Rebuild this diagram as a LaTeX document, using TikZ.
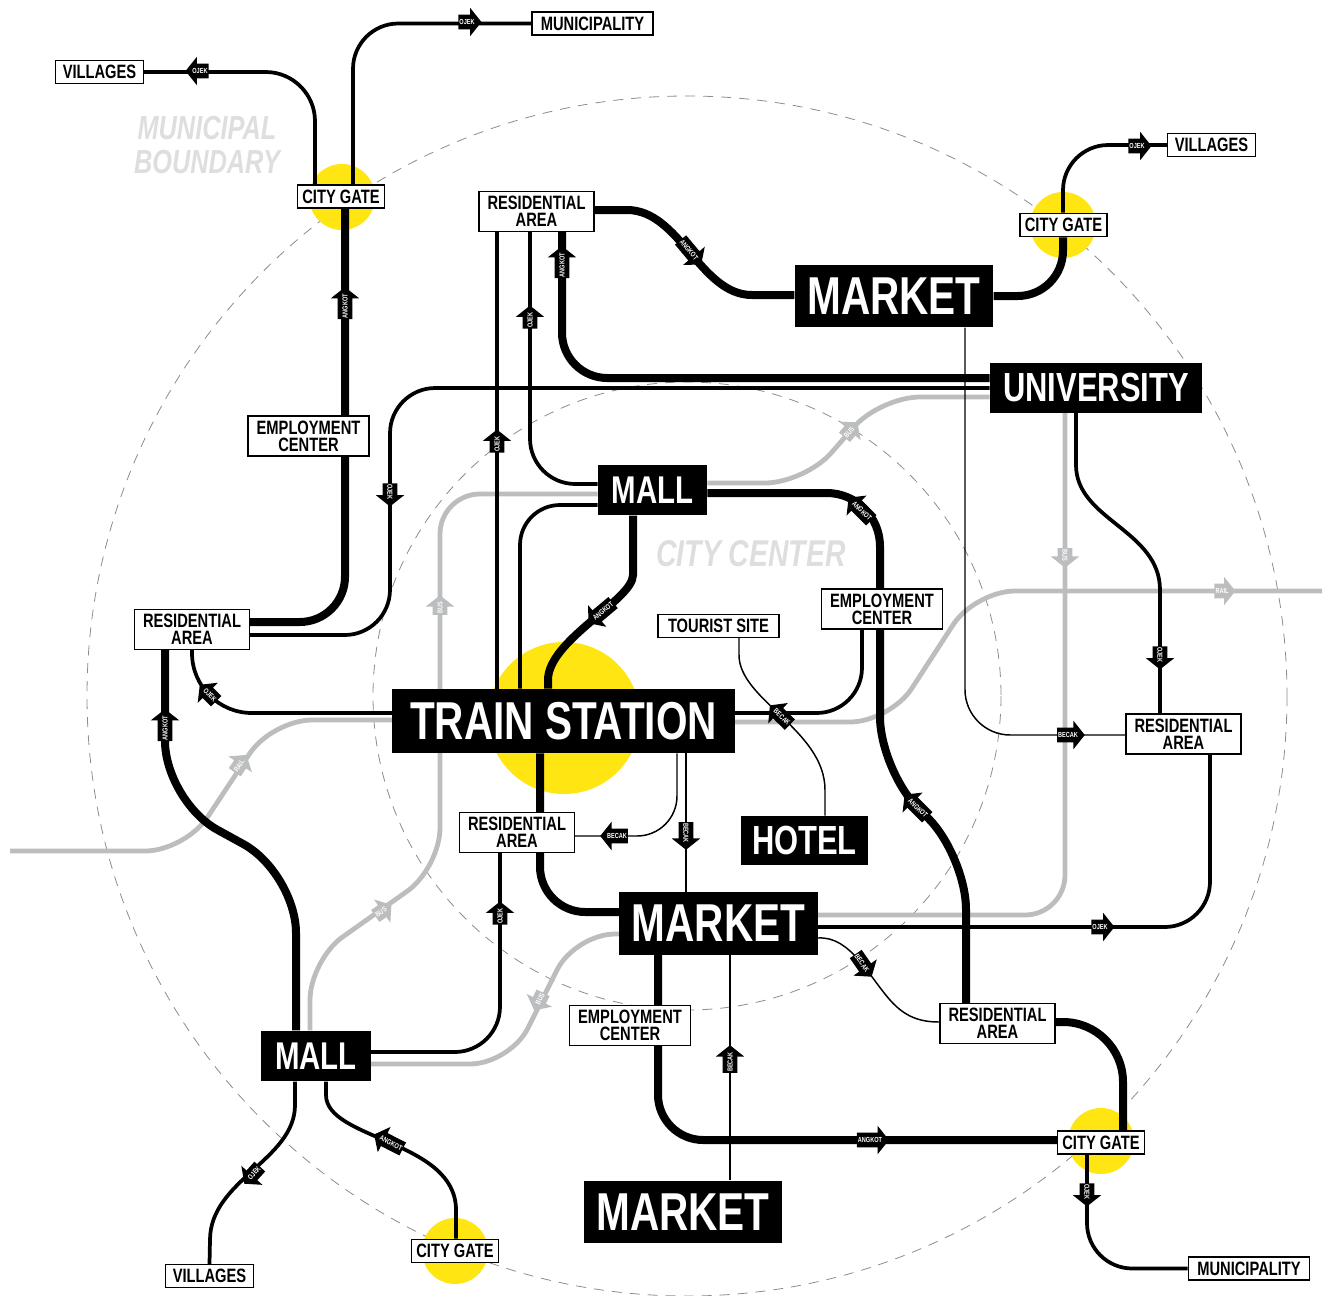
\documentclass[tikz,border=0pt]{standalone}
\usepackage{fontspec}
\setmainfont{Liberation Sans}[FakeStretch=0.76]
\usetikzlibrary{shapes.arrows}
\definecolor{gateyellow}{RGB}{255,229,18}
\definecolor{railgray}{RGB}{188,189,191}
\definecolor{labelgray}{RGB}{221,222,224}
\definecolor{ringgray}{RGB}{140,140,140}
\newcommand\tagfont{\fontsize{5.5}{5.5}\selectfont\bfseries}
\pgfdeclarelayer{bg}
\pgfsetlayers{bg,main}
\begin{document}
\begin{tikzpicture}[x=0.75pt,y=0.75pt,yscale=-1,xscale=1,
  big/.style={fill=black, text=white, inner sep=0pt},
  market/.style={big, minimum width=149pt, minimum height=47pt, font=\fontsize{40}{40}\selectfont\bfseries},
  mall/.style={big, minimum width=82pt, minimum height=38pt, font=\fontsize{29}{29}\selectfont\bfseries},
  small/.style={draw, line width=1.1pt, fill=white, inner sep=0pt, align=center, font=\fontsize{14.5}{12.75}\selectfont\bfseries},
  gate/.style={small, minimum width=65pt, minimum height=17.5pt},
  vill/.style={small, minimum width=66pt, minimum height=17pt},
  muni/.style={small, minimum width=91pt, minimum height=17pt},
  res/.style={small, minimum width=86pt, minimum height=30pt},
  emp/.style={small, minimum width=91pt, minimum height=30pt},
  angkot/.style={line width=6pt},
  ojek/.style={line width=2.8pt},
  becak/.style={line width=1.1pt},
  bus/.style={line width=3.6pt, railgray},
  ring/.style={ringgray, line width=0.6pt, dash pattern=on 7.5pt off 6pt},
  tag/.style={single arrow, fill=black, text=white, font=\tagfont, inner xsep=0.6pt, inner ysep=3.3pt, text height=3.9pt, text depth=0pt, single arrow head extend=5.2pt, single arrow tip angle=103},
  tagl/.style={tag, shape border rotate=180},
  gtag/.style={tag, fill=railgray},
  gtagl/.style={tagl, fill=railgray}]
\useasboundingbox (0,0) rectangle (1325,1296);

% Text Node
\node[font=\fontsize{25}{26}\selectfont\bfseries\itshape, text=labelgray, align=center] (muniLbl) at (207,145) {MUNICIPAL\\BOUNDARY};
% Text Node
\node[font=\fontsize{28}{28}\selectfont\bfseries\itshape, text=labelgray] (cityLbl) at (751,554) {CITY CENTER};

% big places
\node[market] (mktN) at (894,296) {MARKET};
\node[big, minimum width=159pt, minimum height=37.5pt, font=\fontsize{30.5}{30.5}\selectfont\bfseries] (uni) at (1096,387.5) {UNIVERSITY};
\node[mall] (mallN) at (652.5,490) {MALL};
\node[big, minimum width=257pt, minimum height=48pt, font=\fontsize{40}{40}\selectfont\bfseries] (train) at (563.5,721) {TRAIN STATION};
\node[big, minimum width=95pt, minimum height=37pt, font=\fontsize{30.5}{30.5}\selectfont\bfseries] (hotel) at (804.5,840.5) {HOTEL};
\node[market] (mktC) at (718.5,923.5) {MARKET};
\node[mall] (mallS) at (316,1056) {MALL};
\node[market] (mktS) at (683,1212) {MARKET};

% small places
\node[muni] (muniN) at (592.5,23.5) {MUNICIPALITY};
\node[vill] (villNW) at (99.5,72) {VILLAGES};
\node[gate] (gateNW) at (341,196.5) {CITY GATE};
\node[res] (resN) at (536.5,211.5) {RESIDENTIAL\\AREA};
\node[gate] (gateNE) at (1063.5,225) {CITY GATE};
\node[vill] (villNE) at (1211.5,145) {VILLAGES};
\node[emp] (empW) at (308.5,436) {EMPLOYMENT\\CENTER};
\node[res] (resW) at (192,629.5) {RESIDENTIAL\\AREA};
\node[muni] (tour) at (718.5,626) {TOURIST SITE};
\node[emp] (empE) at (882,609) {EMPLOYMENT\\CENTER};
\node[res] (resE) at (1183.5,734) {RESIDENTIAL\\AREA};
\node[res] (resC) at (517,832.5) {RESIDENTIAL\\AREA};
\node[emp] (empS) at (630,1025.5) {EMPLOYMENT\\CENTER};
\node[res] (resSE) at (997.5,1023.5) {RESIDENTIAL\\AREA};
\node[gate] (gateSE) at (1101,1142.5) {CITY GATE};
\node[muni] (muniSE) at (1249,1268.5) {MUNICIPALITY};
\node[gate] (gateS) at (455,1251) {CITY GATE};
\node[vill] (villS) at (209.5,1276) {VILLAGES};

\begin{pgfonlayer}{bg}
%Shape: Circle
\draw[ring] (687,696) circle (450pt);
\draw[ring] (687,696) circle (235.5pt);
%Shape: Circle
\fill[gateyellow] (342,197) circle (24.75pt);
\fill[gateyellow] (1063,225) circle (24.75pt);
\fill[gateyellow] (564,718) circle (57pt);
\fill[gateyellow] (1101,1141) circle (24.75pt);
\fill[gateyellow] (455,1251) circle (24.75pt);

% rail and bus
\draw[bus, rounded corners=30pt] (10,851) -- (185,851) -- (272,720) -- (train.west |- 0,720);
\draw[bus, rounded corners=30pt] (train.east |- 0,722) -- (890,722) -- (975,591) -- (1322,591);
\draw[bus, rounded corners=30pt] (mallN.east |- 0,483) -- (805,483) -- (880,397) -- (uni.west |- 0,397);
\draw[bus, rounded corners=30pt] (uni.south -| 1065,0) -- (1065,915) -- (mktC.east |- 0,915);
\draw[bus, rounded corners=30pt] (mktC.west |- 0,934) -- (575,934) -- (510,1064) -- (mallS.east |- 0,1064);
\draw[bus, rounded corners=30pt] (mallS.north -| 310,0) -- (310,960) -- (440,868) -- (440,494) -- (mallN.west |- 0,494);

%Straight Lines
\draw[angkot, rounded corners=34pt] (gateNW.south -| 345,0) |- (resW.east |- 0,622);
\draw[ojek, rounded corners=34pt] (uni.west |- 0,388) -- (390,388) -- (390,635) -- (resW.east |- 0,635);
\draw[ojek, rounded corners=45pt] (train.west |- 0,713) -| (resW.south);
\draw[angkot, rounded corners=45pt] (resW.south -| 165,0) -- (165,801) -- (296,873) -- (mallS.north -| 296,0);
\draw[ojek] (mallS.south -| 295,0) -- (295,1105) .. controls (295,1160) and (210,1180) .. (210,1240) -- (villS.north);
\draw[ojek] (mallS.south -| 326,0) -- (326,1095) .. controls (326,1140) and (456,1140) .. (456,1210) -- (gateS.north -| 456,0);
\draw[ojek, rounded corners=34pt] (mallS.east |- 0,1052) -| (resC.south -| 500,0);
\draw[ojek, rounded corners=34pt] (mallN.west |- 0,484) -| (resN.south -| 530,0);
\draw[ojek] (resN.south -| 497,0) -- (train.north -| 497,0);
\draw[angkot, rounded corners=34pt] (resN.south -| 562,0) |- (uni.west |- 0,378);
\draw[angkot] (resN.east |- 0,210) -- (627,210) .. controls (680,210) and (700,295) .. (752,295) -- (mktN.west |- 0,295);
\draw[angkot, rounded corners=34pt] (mktN.east |- 0,296) -| (gateNE.south -| 1063,0);
\draw[ojek, rounded corners=34pt] (gateNE.north -| 1063,0) |- (villNE.west);
\draw[becak, rounded corners=34pt] (mktN.south -| 965,0) |- (resE.west |- 0,735);
\draw[ojek] (uni.south -| 1076,0) -- (1076,465) .. controls (1076,520) and (1160,530) .. (1160,590) -- (resE.north -| 1160,0);
\draw[ojek, rounded corners=34pt] (mktC.east |- 0,927) -| (resE.south -| 1210,0);
\draw[becak] (mktC.east |- 0,938) .. controls (850,936) and (868,975) .. (890,1000) .. controls (905,1017) and (920,1022) .. (resSE.west |- 0,1022);
\draw[angkot, rounded corners=40pt] (mallN.east |- 0,493) -- (880,493) -- (880,770) -- (966,856) -- (resSE.north -| 966,0);
\draw[angkot, rounded corners=45pt] (resSE.east |- 0,1022) -| (gateSE.north -| 1123,0);
\draw[ojek, rounded corners=34pt] (gateSE.south -| 1087,0) |- (muniSE.west);
\draw[angkot, rounded corners=34pt] (mktC.south -| 658,0) |- (gateSE.west |- 0,1140);
\draw[becak] (mktS.north -| 730,0) -- (mktC.south -| 730,0);
\draw[becak] (train.south -| 686,0) -- (mktC.north -| 686,0);
\draw[becak, rounded corners=30pt] (train.south -| 677,0) |- (resC.east |- 0,836);
\draw[angkot, rounded corners=34pt] (train.south -| 540,0) |- (mktC.west |- 0,912);
\draw[angkot] (mallN.south -| 633,0) -- (633,575) .. controls (633,600) and (548,640) .. (548,680) -- (train.north -| 548,0);
\draw[ojek, rounded corners=30pt] (mallN.west |- 0,505) -| (train.north -| 520,0);
\draw[ojek, rounded corners=34pt] (train.east |- 0,713) -| (empE.south -| 862,0);
\draw[becak] (tour.south -| 739,0) -- (739,655) .. controls (739,700) and (825,730) .. (825,790) -- (hotel.north -| 825,0);
\draw[ojek, rounded corners=34pt] (gateNW.north -| 353,0) |- (muniN.west);
\draw[ojek, rounded corners=37pt] (gateNW.north -| 315,0) |- (villNW.east);
\end{pgfonlayer}

% mode tags
\node[tag] (tMuniN) at (467,22) {OJEK};
\node[tagl] (tVillNW) at (200,71) {OJEK};
\node[tag, rotate=90] (tGateNW) at (345,306) {ANGKOT};
\node[tag, rotate=-90] (tUniW) at (390,492) {OJEK};
\node[tagl, rotate=-45] (tResW) at (210,695) {OJEK};
\node[tag, rotate=90] (tResWs) at (165,728) {ANGKOT};
\node[tagl, rotate=48] (tVillS) at (254,1173) {OJEK};
\node[tagl, rotate=-27] (tGateS) at (391,1143) {ANGKOT};
\node[tag, rotate=90] (tResC) at (500,916) {OJEK};
\node[tag, rotate=90] (tResNa) at (530,320) {OJEK};
\node[tag, rotate=90] (tResNb) at (497,444) {OJEK};
\node[tag, rotate=90] (tResNc) at (562,265) {ANGKOT};
\node[tag, rotate=-50] (tMktN) at (689,250) {ANGKOT};
\node[tag] (tVillNE) at (1137,146) {OJEK};
\node[tag] (tResEw) at (1068,735) {BECAK};
\node[tag, rotate=-90] (tResEn) at (1160,655) {OJEK};
\node[tag] (tResEs) at (1100,927) {OJEK};
\node[tag, rotate=-55] (tResSE) at (862,963) {BECAK};
\node[tagl, rotate=-45] (tMallNa) at (862,511) {ANGKOT};
\node[tagl, rotate=-45] (tMallNb) at (918,808) {ANGKOT};
\node[tag, rotate=-90] (tMuniSE) at (1087,1192) {OJEK};
\node[tag] (tGateSE) at (870,1140) {ANGKOT};
\node[tag, rotate=90] (tMktS) at (730,1062) {BECAK};
\node[tag, rotate=-90] (tMktC) at (686,833) {BECAK};
\node[tagl] (tResCe) at (617,836) {BECAK};
\node[tagl, rotate=40] (tTrainN) at (603,611) {ANGKOT};
\node[tagl, rotate=-44] (tTour) at (782,717) {BECAK};
\node[gtag, rotate=56] (tRailW) at (239,766) {RAIL};
\node[gtag] (tRailE) at (1222,591) {RAIL};
\node[gtag, rotate=49] (tBusUni) at (849,432) {BUS};
\node[gtag, rotate=-90] (tBusMkt) at (1065,555) {BUS};
\node[gtagl, rotate=63] (tBusMall) at (540,999) {BUS};
\node[gtag, rotate=35] (tBusA) at (381,912) {BUS};
\node[gtag, rotate=90] (tBusB) at (440,608) {BUS};

\end{tikzpicture}
\end{document}
